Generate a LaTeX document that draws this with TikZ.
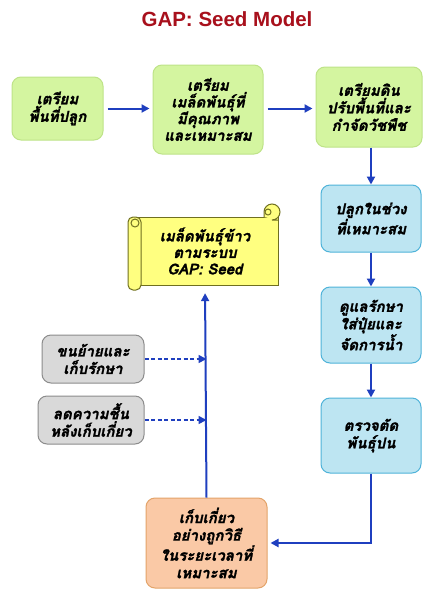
\documentclass[tikz,border=0pt]{standalone}
\usepackage{fontspec}
\newfontfamily\thaifont[Script=Thai, BoldItalicFeatures={FakeBold=1.6}, BoldFeatures={FakeBold=1.6}]{Loma}
\newfontfamily\titlefont{Liberation Sans}
\setmainfont{Loma}[Script=Thai]
\usetikzlibrary{arrows.meta}
\definecolor{gfill}{HTML}{D4F5A0}
\definecolor{gdraw}{HTML}{BEE388}
\definecolor{bfill}{HTML}{BDE5F2}
\definecolor{bdraw}{HTML}{4FB3D9}
\definecolor{grfill}{HTML}{D9D9D9}
\definecolor{grdraw}{HTML}{8C8C8C}
\definecolor{ofill}{HTML}{FAC9A6}
\definecolor{odraw}{HTML}{E3A46A}
\definecolor{yfill}{HTML}{FFFF80}
\definecolor{ydraw}{HTML}{6F6F20}
\definecolor{arr}{HTML}{1F3FBF}
\definecolor{ttl}{HTML}{A8101C}
\tikzset{
  box/.style={rounded corners=9pt, line width=1pt, align=center, inner sep=2pt,
    font=\thaifont\bfseries\itshape\fontsize{15}{17.5}\selectfont},
  greenbox/.style={box, fill=gfill, draw=gdraw},
  bluebox/.style={box, fill=bfill, draw=bdraw},
  graybox/.style={box, fill=grfill, draw=grdraw},
  orangebox/.style={box, fill=ofill, draw=odraw},
  flow/.style={draw=arr, line width=2pt, -{Triangle[length=8pt,width=8pt]}},
  dflow/.style={flow, dash pattern=on 4pt off 2.5pt, line width=1.6pt},
}
\begin{document}
\begin{tikzpicture}[x=1pt,y=-1pt]
\useasboundingbox (0,0) rectangle (425,590);
\fill[white] (0,0) rectangle (425,590);
\node[text=ttl, font=\titlefont\bfseries\fontsize{20.5}{24}\selectfont] (title) at (227,19) {GAP: Seed Model};

\node[greenbox, minimum width=91pt, minimum height=63pt] (b1) at (57.5,108.5) {เตรียม\\พื้นที่ปลูก};
\node[greenbox, minimum width=110pt, minimum height=89pt, font=\thaifont\bfseries\itshape\fontsize{15}{16.7}\selectfont] (b2) at (208,109.5) {เตรียม\\เมล็ดพันธุ์ที่\\มีคุณภาพ\\และเหมาะสม};
\node[greenbox, minimum width=106pt, minimum height=80pt] (b3) at (369,107) {เตรียมดิน\\ปรับพื้นที่และ\\กำจัดวัชพืช};
\node[bluebox, minimum width=100pt, minimum height=67pt] (b4) at (371,218.5) {ปลูกในช่วง\\ที่เหมาะสม};
\node[bluebox, minimum width=100pt, minimum height=76pt] (b5) at (371,325) {ดูแลรักษา\\ใส่ปุ๋ยและ\\จัดการน้ำ};
\node[bluebox, minimum width=100pt, minimum height=75pt] (b6) at (371,435.5) {ตรวจตัด\\พันธุ์ปน};
\node[orangebox, minimum width=121pt, minimum height=90pt] (h) at (206.5,543) {เก็บเกี่ยว\\อย่างถูกวิธี\\ในระยะเวลาที่\\เหมาะสม};
\node[graybox, minimum width=102pt, minimum height=48pt] (g1) at (93,359) {ขนย้ายและ\\เก็บรักษา};
\node[graybox, minimum width=106pt, minimum height=48pt] (g2) at (91,420) {ลดความชื้น\\หลังเก็บเกี่ยว};

% scroll shape
\filldraw[fill=yfill, draw=ydraw, line width=1pt] (134,217) -- (278,217) -- (278,285) -- (134,285) -- cycle;
\filldraw[fill=yfill, draw=ydraw, line width=1pt] (264,217) -- (264,212) arc[start angle=180, end angle=-90, radius=8pt] -- (278,220);
\filldraw[fill=yfill, draw=ydraw, line width=1pt] (268,212) circle[radius=3pt];
\filldraw[fill=yfill, draw=ydraw, line width=1pt, rounded corners=5pt] (128,217) rectangle (141,290);
\filldraw[fill=yfill, draw=ydraw, line width=1pt] (135,223) circle[radius=4pt];
\node[font=\thaifont\bfseries\itshape\fontsize{15}{16.5}\selectfont, align=center, minimum width=150pt, minimum height=68pt] (scroll) at (205,251) {เมล็ดพันธุ์ข้าว\\ตามระบบ\\GAP: Seed};

% connectors
\draw[flow, shorten <=4pt, shorten >=3pt] (b1.east) -- (b1.east -| b2.west);
\draw[flow, shorten <=4pt, shorten >=3pt] (b2.east |- b1.east) -- (b1.east -| b3.west);
\draw[flow] (b3.south -| b4.north) -- (b4.north);
\draw[flow] (b4.south) -- (b5.north);
\draw[flow] (b5.south) -- (b6.north);
\draw[flow, shorten >=3pt] (b6.south) |- (h.east);
\draw[flow, shorten >=8pt] (h.north) -- (scroll.south);
\draw[dflow] (g1.east) -- (g1.east -| h.north);
\draw[dflow] (g2.east) -- (g2.east -| h.north);
\end{tikzpicture}
\end{document}
